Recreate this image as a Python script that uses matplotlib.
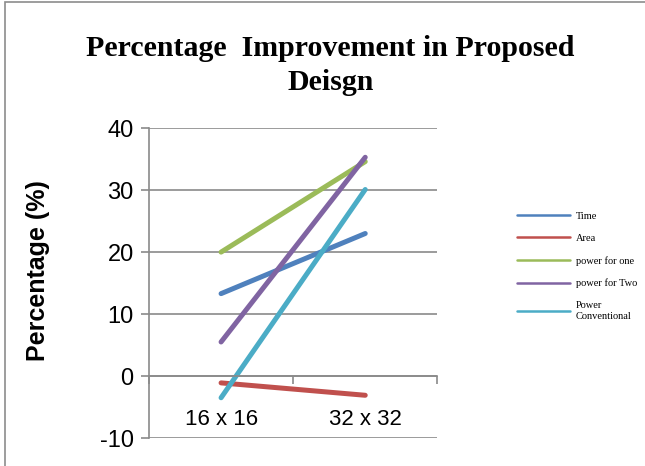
import numpy as np
import matplotlib.pyplot as plt
from matplotlib.patches import Rectangle

plt.rcParams['axes.unicode_minus'] = False

categories = ['16 x 16', '32 x 32']
series_names = ['Time', 'Area', 'power for one', 'power for Two', 'Power\nConventional']
time_vals = [13.3, 23.0]
area_vals = [-1.1, -3.1]
power_one = [20.0, 34.6]
power_two = [5.5, 35.3]
power_conv = [-3.5, 30.1]
colors = ['#4F81BD', '#C0504D', '#9BBB59', '#8064A2', '#4BACC6']

fig = plt.figure(figsize=(6.45, 4.66), dpi=100)
fig.patches.append(Rectangle((0.008, -0.01), 1.1, 1.005, transform=fig.transFigure,
                             fill=False, edgecolor='#8c8c8c', linewidth=1.2))
ax = fig.add_axes([0.231, 0.060, 0.447, 0.665])

x = np.arange(len(categories))
for vals, name, c in zip([time_vals, area_vals, power_one, power_two, power_conv],
                         series_names, colors):
    ax.plot(x, vals, color=c, linewidth=3.6, label=name, solid_capstyle='round')

ax.set_xlim(-0.5, 1.5)
ax.set_ylim(-10, 40)
ax.set_yticks(range(-10, 41, 10))
ax.yaxis.grid(True, color='#8a8a8a', linewidth=1.2)
ax.set_axisbelow(True)
for s in ['top', 'right']:
    ax.spines[s].set_visible(False)
ax.spines['left'].set_color('#8a8a8a')
ax.spines['left'].set_linewidth(1.2)
ax.spines['bottom'].set_position(('data', 0))
ax.spines['bottom'].set_color('#8a8a8a')
ax.spines['bottom'].set_linewidth(1.2)

# category boundaries get the tick marks, names sit at the centres
ax.set_xticks([-0.5, 0.5, 1.5], minor=False)
ax.set_xticklabels(['', '', ''])
ax.tick_params(axis='x', which='major', direction='out', length=6, color='#8a8a8a', width=1.2)
ax.set_xticks(x, minor=True)
ax.set_xticklabels(categories, minor=True, fontsize=16, family='Liberation Sans')
ax.tick_params(axis='x', which='minor', length=0, pad=24)
ax.tick_params(axis='y', direction='out', length=6, color='#8a8a8a', width=1.2,
               labelsize=17, pad=5)
for t in ax.get_yticklabels():
    t.set_family('Liberation Sans')

ax.set_ylabel('Percentage (%)', fontsize=18, fontweight='bold', family='Liberation Sans')
ax.yaxis.set_label_coords(-0.342, 0.54)

fig.text(0.512, 0.895, 'Percentage  Improvement in Proposed', ha='center', va='center',
         fontsize=21.5, fontweight='bold', family='Liberation Serif')
fig.text(0.512, 0.824, 'Deisgn', ha='center', va='center',
         fontsize=21.5, fontweight='bold', family='Liberation Serif')

leg = ax.legend(loc='center left', bbox_to_anchor=(1.243, 0.555), frameon=False,
                prop={'family': 'Liberation Serif', 'size': 7.5}, handlelength=5.1,
                labelspacing=1.25, handletextpad=0.6)
for h in leg.get_lines():
    h.set_linewidth(1.8)

plt.savefig('out.png', dpi=100)
